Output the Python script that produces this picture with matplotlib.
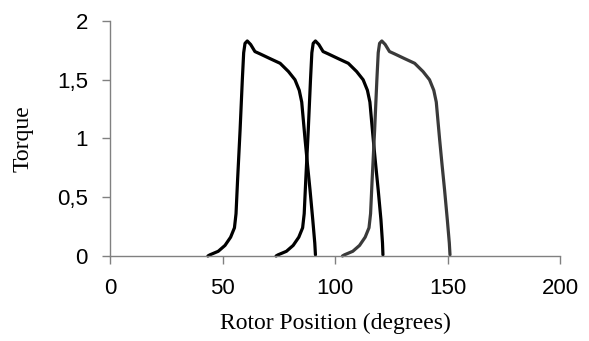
import matplotlib
matplotlib.use("Agg")
import matplotlib.pyplot as plt
from matplotlib.ticker import FuncFormatter

# ----------------------------------------------------------------------
# Data (torque per phase vs rotor position)
# ----------------------------------------------------------------------

torque = [0.00, 0.01, 0.04, 0.09, 0.16, 0.24, 0.36, 0.65, 1.07, 1.50, 1.73,
          1.81, 1.83, 1.80, 1.74, 1.72, 1.68, 1.64, 1.57, 1.50, 1.41, 1.31,
          1.16, 0.99, 0.79, 0.56, 0.31, 0.11, 0.01]

phase_a_pos = [43.5, 44.4, 48.1, 51.1, 53.6, 55.3, 56.0, 56.7, 57.8, 58.8, 59.4,
               60.0, 61.0, 62.5, 64.4, 66.7, 71.1, 75.6, 79.3, 82.2, 84.1, 85.2,
               85.9, 86.7, 87.7, 88.9, 90.1, 91.0, 91.3]
phase_b_pos = [73.8, 74.7, 78.4, 81.4, 83.9, 85.6, 86.3, 87.0, 88.1, 89.1, 89.7,
               90.3, 91.3, 92.8, 94.7, 97.0, 101.4, 105.9, 109.6, 112.5, 114.4,
               115.5, 116.2, 117.0, 118.0, 119.2, 120.4, 121.1, 121.3]
phase_c_pos = [103.3, 104.2, 107.9, 110.9, 113.4, 115.1, 115.8, 116.5, 117.6,
               118.6, 119.2, 119.8, 120.8, 122.3, 124.2, 126.5, 130.9, 135.4,
               139.1, 142.0, 143.9, 145.0, 145.7, 146.5, 147.5, 148.7, 149.9,
               150.8, 151.1]

x_ticks = [0, 50, 100, 150, 200]
y_ticks = [0, 0.5, 1, 1.5, 2]

LINE_COLORS = ["#000000", "#000000", "#3a3a3a"]
AXIS_GREY = "#808080"


def comma(v, _pos):
    return f"{v:g}".replace(".", ",")


fig = plt.figure(figsize=(5.89, 3.41), dpi=100)
ax = fig.add_axes([0.1868, 0.2493, 0.7640, 0.6891])

for xs, c in zip([phase_a_pos, phase_b_pos, phase_c_pos], LINE_COLORS):
    ax.plot(xs, torque, color=c, linewidth=2.3, solid_capstyle="round",
            solid_joinstyle="round", clip_on=False)

ax.set_xlim(0, 200)
ax.set_ylim(0, 2)
ax.set_xticks(x_ticks)
ax.set_yticks(y_ticks)
ax.yaxis.set_major_formatter(FuncFormatter(comma))

for side in ("top", "right"):
    ax.spines[side].set_visible(False)
for side in ("left", "bottom"):
    ax.spines[side].set_color(AXIS_GREY)
    ax.spines[side].set_linewidth(1.0)

ax.tick_params(axis="both", direction="out", length=6, width=1.0,
               color=AXIS_GREY, pad=10, labelsize=16)
for lab in ax.get_xticklabels() + ax.get_yticklabels():
    lab.set_family(["Liberation Sans", "DejaVu Sans"])

ax.set_xlabel("Rotor Position (degrees)", family=["Liberation Serif", "DejaVu Serif"],
              fontsize=17, labelpad=10)
ax.set_ylabel("Torque", family=["Liberation Serif", "DejaVu Serif"],
              fontsize=17, labelpad=17)

fig.savefig("out.png", dpi=100)
